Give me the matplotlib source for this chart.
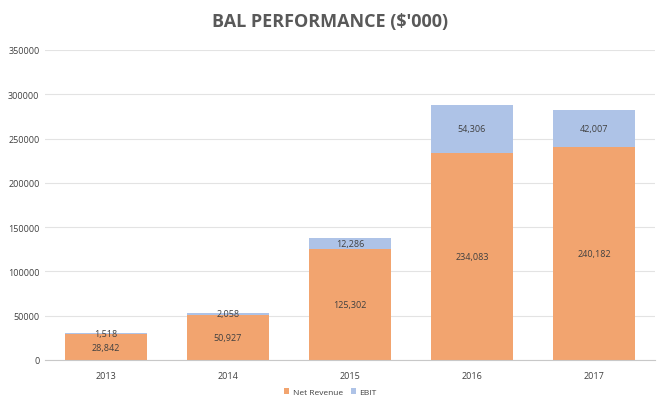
import matplotlib
matplotlib.use("Agg")
import matplotlib.pyplot as plt
import numpy as np

# data
years = ["2013", "2014", "2015", "2016", "2017"]
net_revenue = [28842, 50927, 125302, 234083, 240182]
ebit = [1518, 2058, 12286, 54306, 42007]

ORANGE = "#F2A46F"
BLUE = "#AEC3E7"
TEXT = "#404040"

plt.rcParams["font.family"] = ["Open Sans", "DejaVu Sans"]

fig = plt.figure(figsize=(6.61, 4.10), dpi=100)
ax = fig.add_axes([45 / 661, 1 - 361 / 410, 610 / 661, 310 / 410])

x = np.arange(len(years))
w = 0.67
ax.bar(x, net_revenue, width=w, color=ORANGE, label="Net Revenue", zorder=2)
ax.bar(x, ebit, width=w, bottom=net_revenue, color=BLUE, label="EBIT", zorder=2)

for xi, nr, eb in zip(x, net_revenue, ebit):
    ax.text(xi, nr / 2, f"{nr:,}", ha="center", va="center", fontsize=6.5, color=TEXT, zorder=3)
    ax.text(xi, nr + eb / 2, f"{eb:,}", ha="center", va="center", fontsize=6.5, color=TEXT, zorder=3)

ax.set_xlim(-0.5, len(years) - 0.5)
ax.set_ylim(0, 350000)
ax.set_yticks(np.arange(0, 350001, 50000))
ax.set_yticklabels([str(v) for v in range(0, 350001, 50000)])
ax.set_xticks(x)
ax.set_xticklabels(years)
ax.tick_params(axis="both", length=0, labelsize=6.5, labelcolor=TEXT)
ax.tick_params(axis="x", pad=8)
ax.tick_params(axis="y", pad=4)

ax.grid(axis="y", color="#E3E3E3", linewidth=0.8, zorder=0)
for s in ["top", "right", "left"]:
    ax.spines[s].set_visible(False)
ax.spines["bottom"].set_color("#C8C8C8")
ax.spines["bottom"].set_linewidth(0.8)

fig.text(0.5, 1 - 22 / 410, "BAL PERFORMANCE ($'000)", ha="center", va="center",
         fontsize=13, fontweight="bold", color="#595959")

fig.legend(loc="center", bbox_to_anchor=(0.5, 1 - 393 / 410), ncol=2, frameon=False,
           fontsize=6, handlelength=0.6, handleheight=0.6, handletextpad=0.4,
           columnspacing=1.0, labelcolor=TEXT)

fig.savefig("out.png", dpi=100)
